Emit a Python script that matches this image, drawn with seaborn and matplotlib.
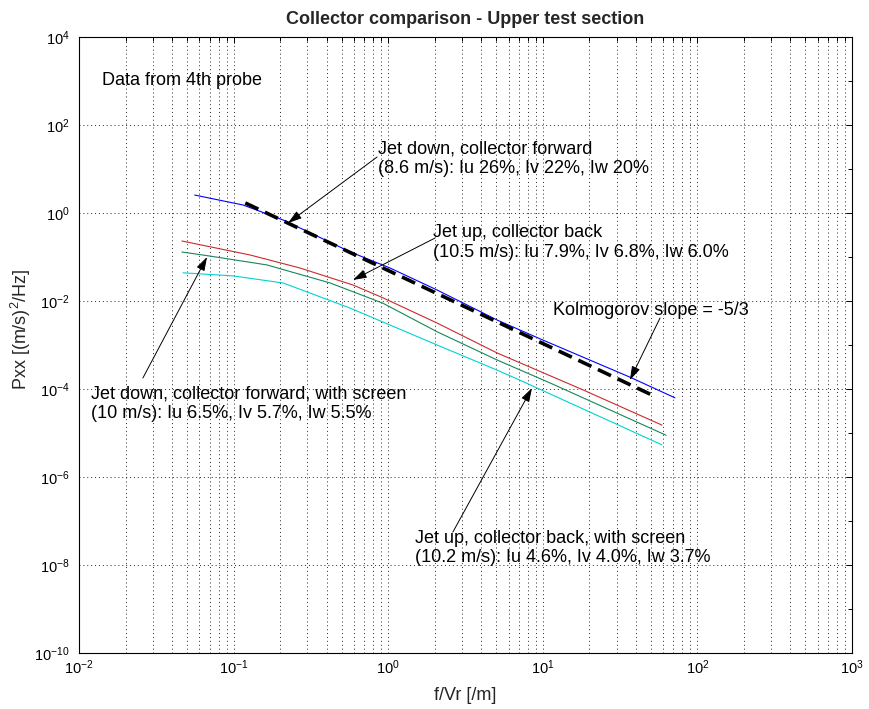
import matplotlib
matplotlib.use("Agg")
import matplotlib.pyplot as plt
from matplotlib.ticker import LogLocator, NullFormatter, LogFormatterSciNotation
import numpy as np
import pandas as pd
import seaborn as sns

# spectra (f/Vr [1/m], Pxx [(m/s)^2/Hz])
f_jet_down = [0.056, 0.115, 0.21, 0.57, 1.03, 2.07, 5.06, 9.6, 36.6, 71.6]
p_jet_down = [2.56, 1.52, 0.69, 0.13, 0.056, 0.0178, 3.7e-3, 1.38e-3, 1.86e-4, 6.3e-5]

f_jet_up = [0.0463, 0.128, 0.269, 0.592, 0.925, 2.07, 5.06, 18.2, 59.0]
p_jet_up = [0.231, 0.111, 0.0562, 0.0231, 0.0118, 3.16e-3, 6.6e-4, 9.55e-5, 1.51e-5]

f_down_screen = [0.0463, 0.0703, 0.164, 0.421, 0.925, 2.07, 5.06, 11.1, 62.7]
p_down_screen = [0.130, 0.105, 0.0661, 0.0257, 8.9e-3, 2.0e-3, 4.57e-4, 1.38e-4, 8.9e-6]

f_up_screen = [0.0471, 0.0991, 0.209, 0.566, 2.07, 5.06, 6.81, 59.0]
p_up_screen = [0.0437, 0.0372, 0.0257, 6.92e-3, 1.0e-3, 2.69e-4, 1.70e-4, 5.37e-6]

# Kolmogorov -5/3 reference line (end points)
f_kolmo = [0.119, 50.8]
p_kolmo = [1.69, 7.3e-5]

cases = ["jet down", "jet up", "jet down screen", "jet up screen"]
colors = ["#0000ff", "#cc2a2a", "#15875a", "#00d2d2"]

df = pd.concat([
    pd.DataFrame({"f": f_jet_down, "Pxx": p_jet_down, "case": cases[0]}),
    pd.DataFrame({"f": f_jet_up, "Pxx": p_jet_up, "case": cases[1]}),
    pd.DataFrame({"f": f_down_screen, "Pxx": p_down_screen, "case": cases[2]}),
    pd.DataFrame({"f": f_up_screen, "Pxx": p_up_screen, "case": cases[3]}),
])

sns.set_style("white")
plt.rcParams["font.family"] = ["Liberation Sans", "DejaVu Sans"]
plt.rcParams["mathtext.fontset"] = "custom"
plt.rcParams["mathtext.rm"] = "Liberation Sans"
plt.rcParams["mathtext.it"] = "Liberation Sans:italic"

fig = plt.figure(figsize=(8.7, 7.09), dpi=100)
ax = fig.add_axes([79 / 870, 1 - 653 / 709, 773 / 870, 616 / 709])

sns.lineplot(data=df, x="f", y="Pxx", hue="case", palette=dict(zip(cases, colors)),
             legend=False, lw=0.8, estimator=None, ax=ax)
ax.plot(f_kolmo, p_kolmo, color="k", lw=2.6, dashes=(4, 2))

ax.set_xscale("log")
ax.set_yscale("log")
ax.set_xlim(1e-2, 1e3)
ax.set_ylim(1e-10, 1e4)

# ticks like the original: y labelled every two decades
ax.xaxis.set_major_locator(LogLocator(base=10, numticks=10))
ax.xaxis.set_minor_locator(LogLocator(base=10, subs=np.arange(2, 10), numticks=20))
ax.xaxis.set_minor_formatter(NullFormatter())
ax.set_yticks([10.0 ** k for k in range(-10, 5, 2)])
ax.set_yticks([10.0 ** k for k in range(-9, 4, 2)], minor=True)
ax.yaxis.set_major_formatter(LogFormatterSciNotation())
ax.yaxis.set_minor_formatter(NullFormatter())

ax.tick_params(which="both", direction="in", top=True, right=True, colors="k", labelsize=10.5)
ax.tick_params(which="major", length=4, width=0.7)
ax.tick_params(which="minor", length=3, width=0.7)
ax.tick_params(axis="y", pad=7)
ax.tick_params(axis="x", pad=4)

grid_ls = (0, (1, 3))
ax.grid(True, which="major", axis="both", ls=grid_ls, color="0.15", lw=0.7)
ax.grid(True, which="minor", axis="x", ls=grid_ls, color="0.15", lw=0.7)
for s in ax.spines.values():
    s.set_color("k")
    s.set_linewidth(0.8)

ax.set_title("Collector comparison - Upper test section", fontsize=13, fontweight="bold", pad=9)
ax.set_xlabel("f/Vr [/m]", fontsize=13)
ax.set_ylabel("Pxx [(m/s)$^2$/Hz]", fontsize=13)
ax.yaxis.set_label_coords(-0.060, 0.525)
ax.xaxis.set_label_coords(0.5, -0.055)

# annotations
txt = dict(fontsize=13, ha="left", va="top", color="k")
arw = dict(arrowstyle="-|>,head_length=0.7,head_width=0.22", color="k", lw=0.7,
           mutation_scale=12, shrinkA=0, shrinkB=0)

ax.text(0.0141, 1620, "Data from 4th probe", **txt)

ax.text(0.86, 44, "Jet down, collector forward\n(8.6 m/s): Iu 26%, Iv 22%, Iw 20%", **txt)
ax.annotate("", xy=(0.225, 0.593), xytext=(0.847, 18.7), arrowprops=arw)

ax.text(1.95, 0.55, "Jet up, collector back\n(10.5 m/s): Iu 7.9%, Iv 6.8%, Iw 6.0%", **txt)
ax.annotate("", xy=(0.591, 0.030), xytext=(2.01, 0.27), arrowprops=arw)

ax.text(11.6, 0.0093, "Kolmogorov slope = -5/3", **txt)
ax.annotate("", xy=(36.6, 1.6e-4), xytext=(57.3, 4.1e-3), arrowprops=arw)

ax.text(0.012, 1.18e-4, "Jet down, collector forward, with screen\n(10 m/s): Iu 6.5%, Iv 5.7%, Iw 5.5%", **txt)
ax.annotate("", xy=(0.0673, 0.1), xytext=(0.0259, 1.78e-4), arrowprops=arw)

ax.text(1.49, 6.3e-8, "Jet up, collector back, with screen\n(10.2 m/s): Iu 4.6%, Iv 4.0%, Iw 3.7%", **txt)
ax.annotate("", xy=(8.51, 1.05e-4), xytext=(2.62, 5.6e-8), arrowprops=arw)

fig.savefig("out.png", dpi=100)
